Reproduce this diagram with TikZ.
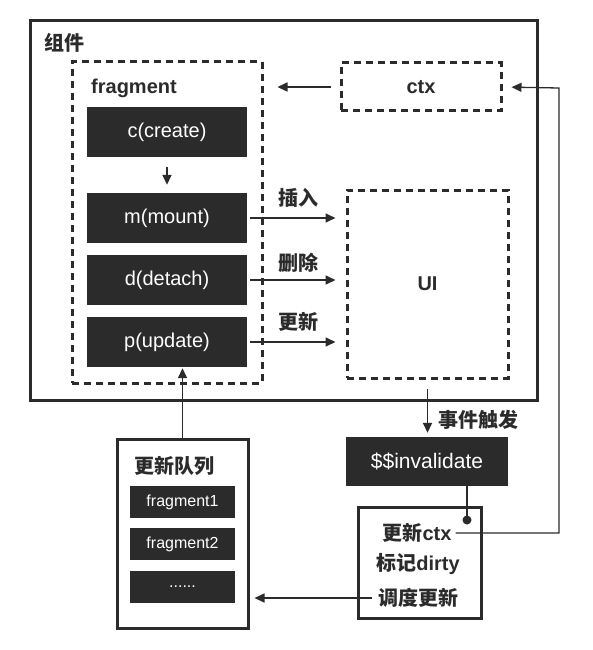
\documentclass[tikz,border=0pt]{standalone}
\usepackage{fontspec}
\setmainfont{Liberation Sans}
\newfontfamily\cjk{Noto Sans CJK SC}
\usetikzlibrary{arrows.meta}
\definecolor{ink}{HTML}{2B2B2B}
\tikzset{
  darkbox/.style={fill=ink, text=white, minimum width=160, minimum height=50, inner sep=0pt, font=\fontsize{20}{24}\selectfont},
  qitem/.style={fill=ink, text=white, minimum width=105, minimum height=32, inner sep=0pt, font=\fontsize{16}{19}\selectfont},
  dashbox/.style={draw=ink, line width=3pt, dash pattern=on 7pt off 5pt, inner sep=0pt},
  solidbox/.style={draw=ink, line width=3pt, inner sep=0pt},
  arr/.style={draw=ink, line width=1.6pt, -{Triangle[length=10pt,width=9pt]}},
  thinarr/.style={draw=ink, line width=1.3pt, -{Triangle[length=10pt,width=9pt]}},
  cjklabel/.style={font=\cjk\bfseries\fontsize{20}{24}\selectfont, text=ink, inner sep=0pt},
  latlabel/.style={font=\bfseries\fontsize{20}{24}\selectfont, text=ink, inner sep=0pt},
}
\begin{document}
\begin{tikzpicture}[x=1pt,y=-1pt]
\useasboundingbox (0,0) rectangle (592,650);
% outer component box
\node[solidbox, minimum width=507, minimum height=379] (comp) at (284,210.5) {};
\node[cjklabel] (complbl) at (64,43) {组件};
% fragment
\node[dashbox, minimum width=190, minimum height=321] (frag) at (167,222.5) {};
\node[latlabel] (fraglbl) at (134,88) {fragment};
\node[darkbox] (c) at (167,132) {c(create)};
\node[darkbox] (m) at (167,218) {m(mount)};
\node[darkbox] (d) at (167,280) {d(detach)};
\node[darkbox] (p) at (167,342) {p(update)};
% ctx and UI
\node[dashbox, minimum width=160, minimum height=48, font=\bfseries\fontsize{20}{24}\selectfont, text=ink] (ctx) at (421,87) {ctx};
\node[dashbox, minimum width=161, minimum height=188, font=\bfseries\fontsize{20}{24}\selectfont, text=ink] (ui) at (427.5,284) {UI};
% invalidate
\node[darkbox, minimum width=162, minimum height=49, font=\fontsize{21}{25}\selectfont] (inv) at (427,461.5) {\$\$invalidate};
% schedule box
\node[solidbox, minimum width=123, minimum height=111] (sched) at (419.5,562.5) {};
\node[cjklabel] (t1) at (417,533) {更新{\rmfamily\bfseries ctx}};
\node[cjklabel] (t2) at (418,564) {标记{\rmfamily\bfseries dirty}};
\node[cjklabel] (t3) at (418,598) {调度更新};
% queue
\node[solidbox, minimum width=131, minimum height=189] (queue) at (182.5,533.5) {};
\node[cjklabel] (qlbl) at (174,466) {更新队列};
\node[qitem] (f1) at (182.5,502) {fragment1};
\node[qitem] (f2) at (182.5,544) {fragment2};
\node[qitem] (f3) at (182.5,587) {......};
% edge labels
\node[cjklabel] (l1) at (298,198) {插入};
\node[cjklabel] (l2) at (298,263) {删除};
\node[cjklabel] (l3) at (298,322) {更新};
\node[cjklabel] (l4) at (478,420) {事件触发};
% connectors
\draw[arr, shorten <=10pt, shorten >=8pt] (c.south) -- (m.north);
\draw[arr, shorten <=3pt, shorten >=10pt] (m.east) -- (m.east -| ui.west);
\draw[arr, shorten <=3pt, shorten >=10pt] (d.east) -- (d.east -| ui.west);
\draw[arr, shorten <=3pt, shorten >=10pt] (p.east) -- (p.east -| ui.west);
\draw[arr, shorten <=9pt, shorten >=14pt] (ctx.west) -- (ctx.west -| frag.east);
\draw[arr, shorten >=1pt] (queue.north) -- (queue.north |- p.south);
\draw[arr, shorten <=9pt, shorten >=4pt] (ui.south) -- (ui.south |- inv.north);
\coordinate (dot) at (467,520);
\draw[draw=ink, line width=2pt] (inv.south -| dot) -- (dot);
\fill[ink] (dot) circle (4.5pt);
\coordinate (rt) at (559,88);
\draw[thinarr, shorten <=4pt, shorten >=9pt] (t1.east) -| (rt) -- (ctx.east);
\draw[arr, shorten <=6pt, shorten >=5pt] (t3.west) -- (t3.west -| queue.east);
\end{tikzpicture}
\end{document}
